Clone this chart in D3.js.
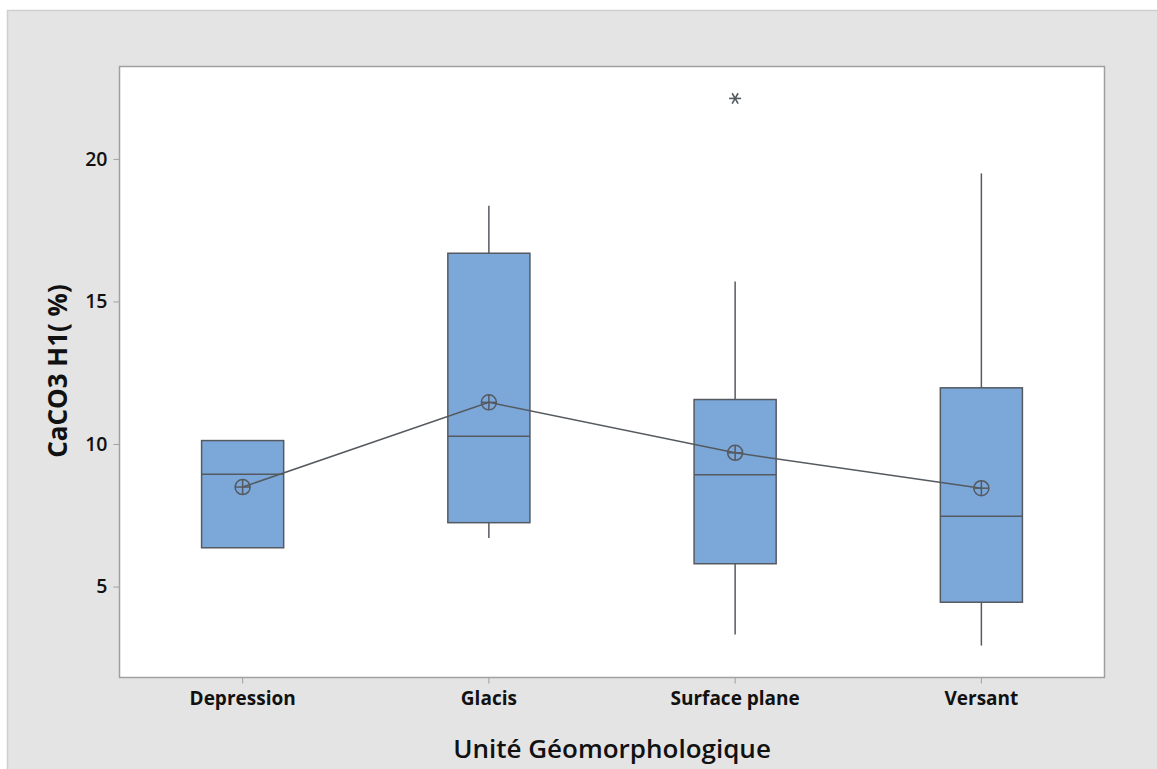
<!DOCTYPE html>
<html><head><meta charset="utf-8">
<script src="https://cdn.jsdelivr.net/npm/d3@7"></script>
<style>html,body{margin:0;padding:0;background:#fff;}svg{display:block;}</style>
</head><body>
<script>
const categories = ["Depression", "Glacis", "Surface plane", "Versant"];
const whiskerLow  = [6.36, 6.70, 3.32, 2.93];
const q1          = [6.36, 7.24, 5.80, 4.45];
const medians     = [8.94, 10.27, 8.92, 7.47];
const q3          = [10.12, 16.69, 11.56, 11.97];
const whiskerHigh = [10.12, 18.36, 15.70, 19.49];
const means       = [8.49, 11.46, 9.69, 8.45];
const outliers    = [{cat: "Surface plane", value: 22.12}];
const yTicks      = [5, 10, 15, 20];
const yLabel = "CaCO3 H1( %)";
const xLabel = "Unité Géomorphologique";

const W = 1157, H = 769;
const m = {left: 119.5, right: 1104.5, top: 66.5, bottom: 677.5};
const font = "'Open Sans','Noto Sans',sans-serif";
const stroke = "#555a60";

const svg = d3.select("body").append("svg").attr("width", W).attr("height", H);
svg.append("rect").attr("x", 7.5).attr("y", 10.5).attr("width", W).attr("height", H)
  .attr("fill", "#e4e4e4").attr("stroke", "#cfcfcf").attr("stroke-width", 1.5);
svg.append("rect").attr("x", m.left).attr("y", m.top).attr("width", m.right - m.left).attr("height", m.bottom - m.top)
  .attr("fill", "#fff");

const x = d3.scaleBand().domain(categories).range([m.left, m.right]);
const y = d3.scaleLinear().domain([1.81, 23.24]).range([m.bottom, m.top]);
const bw = x.bandwidth() / 3;

const yAxis = svg.append("g").attr("transform", `translate(${m.left},0)`)
  .call(d3.axisLeft(y).tickValues(yTicks).tickSize(6).tickPadding(6).tickSizeOuter(0));
yAxis.select(".domain").remove();
yAxis.selectAll("line").attr("stroke", "#a0a0a0");
yAxis.selectAll("text").attr("font-family", font).attr("font-size", 19.5).attr("font-weight", 600).attr("fill", "#111");

const xAxis = svg.append("g").attr("transform", `translate(0,${m.bottom})`)
  .call(d3.axisBottom(x).tickSize(6).tickPadding(8).tickSizeOuter(0));
xAxis.select(".domain").remove();
xAxis.selectAll("line").attr("stroke", "#a0a0a0");
xAxis.selectAll("text").attr("font-family", font).attr("font-size", 19).attr("font-weight", 700).attr("fill", "#111");

svg.append("rect").attr("x", m.left).attr("y", m.top).attr("width", m.right - m.left).attr("height", m.bottom - m.top)
  .attr("fill", "none").attr("stroke", "#a0a0a0").attr("stroke-width", 1.5);

const g = svg.append("g");
categories.forEach((c, i) => {
  const cx = x(c) + x.bandwidth() / 2;
  if (whiskerHigh[i] > q3[i]) g.append("line").attr("x1", cx).attr("x2", cx).attr("y1", y(q3[i])).attr("y2", y(whiskerHigh[i])).attr("stroke", stroke).attr("stroke-width", 1.5);
  if (whiskerLow[i] < q1[i]) g.append("line").attr("x1", cx).attr("x2", cx).attr("y1", y(q1[i])).attr("y2", y(whiskerLow[i])).attr("stroke", stroke).attr("stroke-width", 1.5);
  g.append("rect").attr("x", cx - bw / 2).attr("y", y(q3[i])).attr("width", bw).attr("height", y(q1[i]) - y(q3[i]))
    .attr("fill", "#7ba7d9").attr("stroke", stroke).attr("stroke-width", 1.5);
  g.append("line").attr("x1", cx - bw / 2).attr("x2", cx + bw / 2).attr("y1", y(medians[i])).attr("y2", y(medians[i])).attr("stroke", stroke).attr("stroke-width", 1.5);
});

const line = d3.line().x((d, i) => x(categories[i]) + x.bandwidth() / 2).y(d => y(d));
g.append("path").datum(means).attr("d", line).attr("fill", "none").attr("stroke", stroke).attr("stroke-width", 1.5);

means.forEach((v, i) => {
  const cx = x(categories[i]) + x.bandwidth() / 2, cy = y(v), r = 7.5;
  g.append("circle").attr("cx", cx).attr("cy", cy).attr("r", r).attr("fill", "none").attr("stroke", stroke).attr("stroke-width", 1.5);
  g.append("line").attr("x1", cx - r).attr("x2", cx + r).attr("y1", cy).attr("y2", cy).attr("stroke", stroke).attr("stroke-width", 1.5);
  g.append("line").attr("x1", cx).attr("x2", cx).attr("y1", cy - r).attr("y2", cy + r).attr("stroke", stroke).attr("stroke-width", 1.5);
});

outliers.forEach(o => {
  const cx = x(o.cat) + x.bandwidth() / 2, cy = y(o.value), r = 6;
  [0, 60, 120].forEach(a => {
    const rad = a * Math.PI / 180;
    const dx = r * Math.cos(rad), dy = r * Math.sin(rad);
    g.append("line").attr("x1", cx - dx).attr("x2", cx + dx).attr("y1", cy - dy).attr("y2", cy + dy).attr("stroke", stroke).attr("stroke-width", 1.6);
  });
});

svg.append("text").attr("x", (m.left + m.right) / 2).attr("y", 758).attr("text-anchor", "middle")
  .attr("font-family", font).attr("font-size", 26).attr("font-weight", 600).attr("fill", "#111").text(xLabel);
svg.append("text").attr("transform", `translate(67,${(m.top + m.bottom) / 2 - 1}) rotate(-90)`).attr("text-anchor", "middle")
  .attr("font-family", font).attr("font-size", 26).attr("font-weight", 700).attr("fill", "#111").text(yLabel);
</script>
</body></html>
